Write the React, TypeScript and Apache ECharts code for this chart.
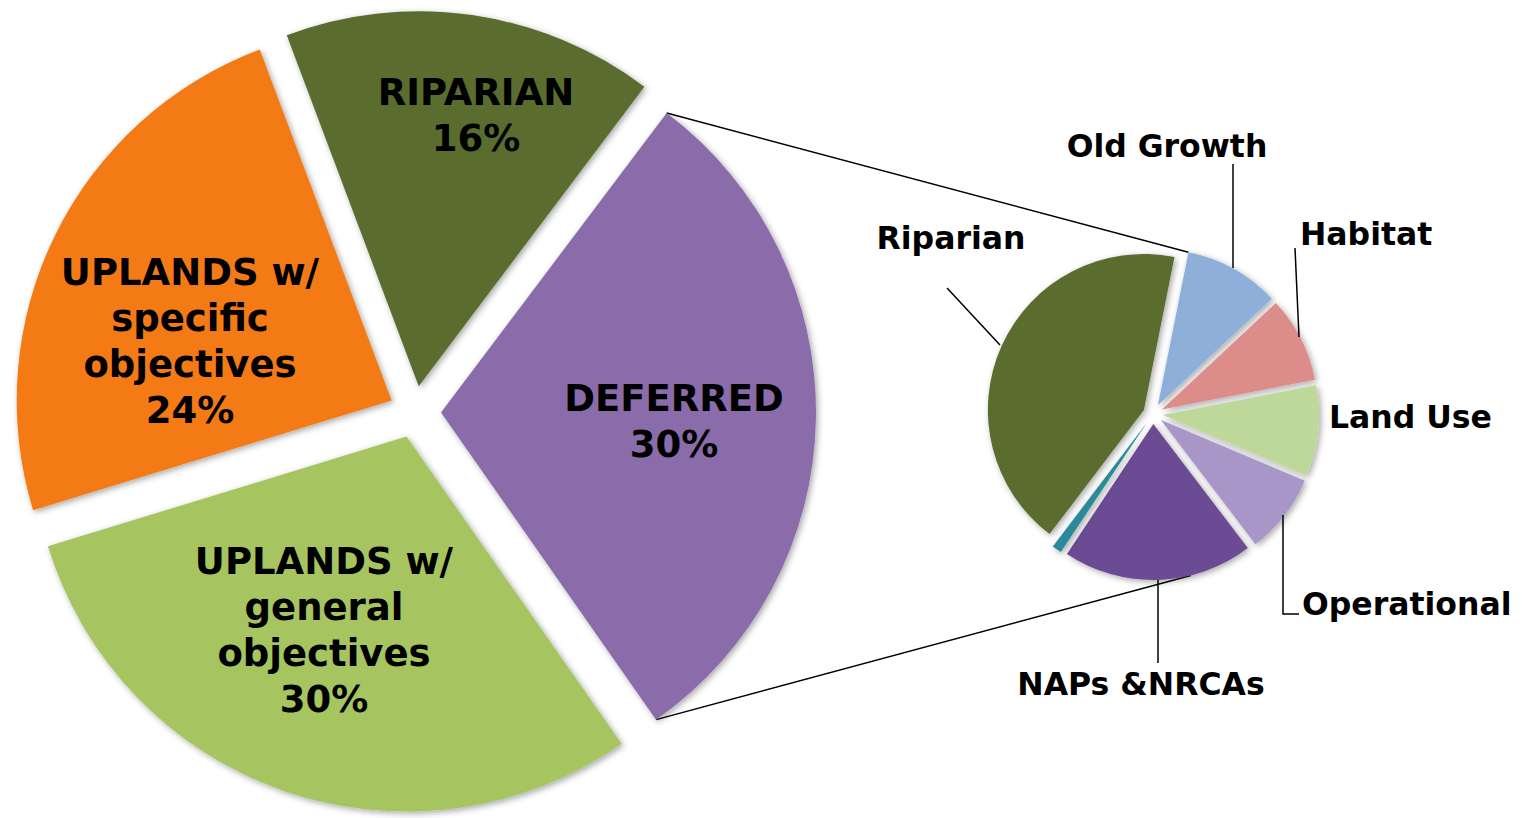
import React, { useEffect, useRef } from "react";
import * as echarts from "echarts";

// ---- data ----
const mainCategories = [
  "DEFERRED",
  "UPLANDS w/\ngeneral\nobjectives",
  "UPLANDS w/\nspecific\nobjectives",
  "RIPARIAN",
];
const mainValues = [30, 30, 24, 16];
const mainColors = ["#8A6CAB", "#A6C560", "#F47A12", "#5A6D2E"];

const subCategories = [
  "Old Growth",
  "Habitat",
  "Land Use",
  "Operational",
  "NAPs &NRCAs",
  "Other",
  "Riparian",
];
const subValues = [9.9, 8.9, 9.4, 8.3, 19.7, 1.0, 42.8];
const subColors = ["#8DAFDA", "#DC8D8A", "#BED89A", "#A896C8", "#6B4B94", "#2B8A9C", "#5A6D2E"];

// ---- layout (not data) ----
const MAIN = { cx: 415, cy: 412, r: 375, offset: 26, startAngle: 53 };
const SUB = { cx: 1153, cy: 414, r: 156, offset: 10, startAngle: 78.7 };
const FONT = "DejaVu Sans";

const mainLabelPos: [number, number][] = [
  [674, 421],
  [324, 630],
  [190, 341],
  [476, 115],
];

type SubLabel = { x: number; y: number; align: string; line?: number[][] } | null;
const subLabelPos: SubLabel[] = [
  { x: 1167, y: 146, align: "center", line: [[1233, 268], [1233, 164]] },
  { x: 1300, y: 234, align: "left", line: [[1299, 337], [1295, 248]] },
  { x: 1329, y: 417, align: "left" },
  { x: 1302, y: 604, align: "left", line: [[1283, 515], [1283, 614], [1299, 614]] },
  { x: 1141, y: 684, align: "center", line: [[1158, 580], [1158, 663]] },
  null,
  { x: 951, y: 238, align: "center", line: [[1000, 345], [947, 288]] },
];

const rad = (d: number) => (d * Math.PI) / 180;

function sliceAngles(values: number[], start: number) {
  const total = values.reduce((a, b) => a + b, 0);
  let a = start;
  return values.map((v) => {
    const s = a;
    const e = a - (360 * v) / total;
    a = e;
    return { s, e, m: (s + e) / 2, pct: (100 * v) / total };
  });
}

function pointOn(P: typeof MAIN, ang: { m: number }, at: number) {
  const ax = P.cx + P.offset * Math.cos(rad(ang.m));
  const ay = P.cy - P.offset * Math.sin(rad(ang.m));
  return [ax + P.r * Math.cos(rad(at)), ay - P.r * Math.sin(rad(at))];
}

const shadow = {
  shadowBlur: 6,
  shadowColor: "rgba(0,0,0,0.35)",
  shadowOffsetX: 2,
  shadowOffsetY: 2,
};

export default function App() {
  const ref = useRef<HTMLDivElement>(null);

  useEffect(() => {
    document.body.style.margin = "0";
    if (!ref.current) return;
    const chart = echarts.init(ref.current, undefined, { renderer: "svg" });

    const mA = sliceAngles(mainValues, MAIN.startAngle);
    const sA = sliceAngles(subValues, SUB.startAngle);
    const mTop = pointOn(MAIN, mA[0], mA[0].s);
    const mBot = pointOn(MAIN, mA[0], mA[0].e);
    const sTop = pointOn(SUB, sA[0], sA[0].s);
    const napIdx = 4;
    const sBot = pointOn(
      SUB,
      sA[napIdx],
      sA[napIdx].s + (sA[napIdx].e - sA[napIdx].s) * 0.33
    );

    const graphics: any[] = [
      {
        type: "line",
        z: 1,
        shape: { x1: mTop[0], y1: mTop[1], x2: sTop[0], y2: sTop[1] },
        style: { stroke: "#000", lineWidth: 1.5 },
      },
      {
        type: "line",
        z: 1,
        shape: { x1: mBot[0], y1: mBot[1], x2: sBot[0], y2: sBot[1] },
        style: { stroke: "#000", lineWidth: 1.5 },
      },
    ];

    mainCategories.forEach((n, i) => {
      graphics.push({
        type: "text",
        z: 100,
        x: mainLabelPos[i][0],
        y: mainLabelPos[i][1],
        style: {
          text: `${n}\n${Math.round(mA[i].pct)}%`,
          fontFamily: FONT,
          fontWeight: "bold",
          fontSize: 37,
          lineHeight: 46,
          fill: "#000",
          align: "center",
          verticalAlign: "middle",
        },
      });
    });

    subCategories.forEach((n, i) => {
      const L = subLabelPos[i];
      if (!L) return;
      graphics.push({
        type: "text",
        z: 100,
        x: L.x,
        y: L.y,
        style: {
          text: n,
          fontFamily: FONT,
          fontWeight: "bold",
          fontSize: 31.5,
          fill: "#000",
          align: L.align,
          verticalAlign: "middle",
        },
      });
      if (L.line) {
        graphics.push({
          type: "polyline",
          z: 100,
          shape: { points: L.line },
          style: { stroke: "#000", lineWidth: 1.5, fill: "none" },
        });
      }
    });

    chart.setOption({
      animation: false,
      backgroundColor: "#ffffff",
      graphic: graphics,
      series: [
        {
          type: "pie",
          center: [MAIN.cx, MAIN.cy],
          radius: [0, MAIN.r],
          startAngle: MAIN.startAngle,
          clockwise: true,
          selectedMode: "multiple",
          selectedOffset: MAIN.offset,
          avoidLabelOverlap: false,
          emphasis: { disabled: true },
          label: { show: false },
          labelLine: { show: false },
          data: mainCategories.map((n, i) => ({
            name: n,
            value: mainValues[i],
            selected: true,
            itemStyle: { color: mainColors[i], ...shadow },
          })),
        },
        {
          type: "pie",
          center: [SUB.cx, SUB.cy],
          radius: [0, SUB.r],
          startAngle: SUB.startAngle,
          clockwise: true,
          selectedMode: "multiple",
          selectedOffset: SUB.offset,
          avoidLabelOverlap: false,
          emphasis: { disabled: true },
          label: { show: false },
          labelLine: { show: false },
          data: subCategories.map((n, i) => ({
            name: n,
            value: subValues[i],
            selected: true,
            itemStyle: { color: subColors[i], ...shadow },
          })),
        },
      ],
    });

    return () => chart.dispose();
  }, []);

  return <div ref={ref} style={{ width: 1522, height: 818 }} />;
}
